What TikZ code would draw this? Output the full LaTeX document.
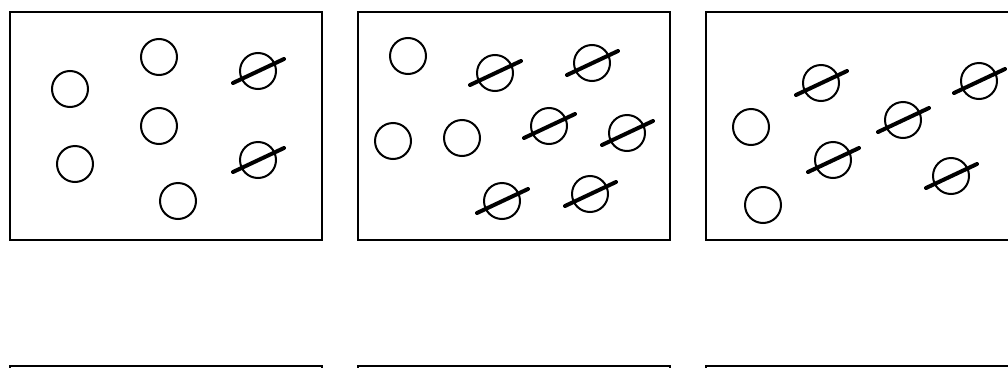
\documentclass[tikz,border=0pt]{standalone}
\begin{document}
\begin{tikzpicture}[x=1pt,y=-1pt,
  panel/.style={draw=black,line width=2.8pt},
  ball/.style={circle,draw=black,line width=2pt,minimum size=36pt,inner sep=0pt},
  slash/.style={draw=black,line width=4pt,line cap=round}]
\useasboundingbox (0,0) rectangle (1008,367);
\clip (0,0) rectangle (1008,367);
% panels
\draw[panel] (10,12) rectangle (322,240);
\draw[panel] (358,12) rectangle (670,240);
\draw[panel] (706,12) rectangle (1040,240);
\draw[panel] (10,366) rectangle (322,600);
\draw[panel] (358,366) rectangle (670,600);
\draw[panel] (706,366) rectangle (1040,600);
% panel 1
\node[ball] (a1) at (70,89) {};
\node[ball] (a2) at (159,57) {};
\node[ball] (a3) at (159,126) {};
\node[ball] (a4) at (75,164) {};
\node[ball] (a5) at (178,201) {};
\node[ball] (a6) at (258,71) {};
\node[ball] (a7) at (258,160) {};
% panel 2
\node[ball] (b1) at (408,56) {};
\node[ball] (b2) at (393,141) {};
\node[ball] (b3) at (462,138) {};
\node[ball] (b4) at (495,73) {};
\node[ball] (b5) at (592,63) {};
\node[ball] (b6) at (549,126) {};
\node[ball] (b7) at (627,133) {};
\node[ball] (b8) at (502,201) {};
\node[ball] (b9) at (590,194) {};
% panel 3
\node[ball] (c1) at (751,127) {};
\node[ball] (c2) at (763,205) {};
\node[ball] (c3) at (821,83) {};
\node[ball] (c4) at (833,160) {};
\node[ball] (c5) at (903,120) {};
\node[ball] (c6) at (979,81) {};
\node[ball] (c7) at (951,176) {};
% slashes
\foreach \n in {a6,a7,b4,b5,b6,b7,b8,b9,c3,c4,c5,c6,c7}
  \draw[slash] (\n) ++(-25,12) -- ++(51,-24);
\end{tikzpicture}
\end{document}
